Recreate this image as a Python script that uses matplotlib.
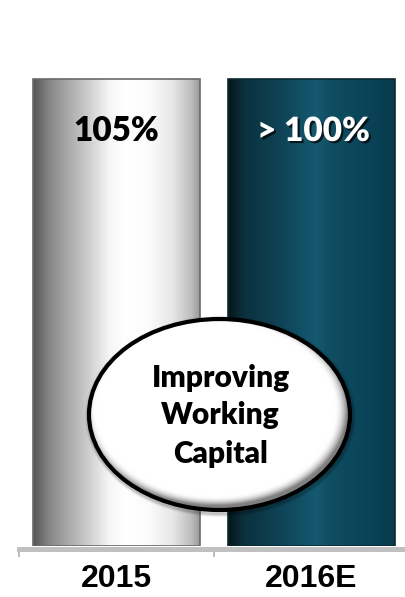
import numpy as np
import matplotlib
matplotlib.use("Agg")
import matplotlib.pyplot as plt
from matplotlib.colors import LinearSegmentedColormap
from matplotlib.patches import Ellipse
import matplotlib.patheffects as pe

# ---- data ----
categories = ["2015", "2016E"]
bar_values = [105, 105]          # both bars drawn at equal height in the reference
value_labels = ["105%", "> 100%"]
callout_lines = ["Improving", "Working", "Capital"]

W, H, DPI = 406, 597, 100
fig = plt.figure(figsize=(W / DPI, H / DPI), dpi=DPI)
fig.patch.set_facecolor("white")

# main axes: x from px 19 to 409, bar bottom at px 546
ax_left = 19 / W
ax_w = 390 / W
ax_bottom = (H - 546) / H
ymax = 120
ax_h = (467 * ymax / 105) / H
ax = fig.add_axes([ax_left, ax_bottom, ax_w, ax_h])
ax.set_facecolor("none")

x = np.arange(len(categories))
bars = ax.bar(x, bar_values, width=0.856, facecolor="none",
              edgecolor=["#6a6a6a", "#0a2a34"], linewidth=1.2, zorder=3)

grad_stops = [
    [(0.0, "#555555"), (0.10, "#888888"), (0.30, "#c4c4c4"), (0.46, "#f6f6f6"),
     (0.55, "#ffffff"), (0.70, "#fbfbfb"), (0.84, "#e6e6e6"), (0.95, "#bdbdbd"),
     (1.0, "#9a9a9a")],
    [(0.0, "#05161c"), (0.09, "#0b303c"), (0.33, "#0f4558"), (0.53, "#155a70"),
     (0.61, "#104e62"), (0.83, "#0a4458"), (1.0, "#083a4c")],
]
for patch, stops in zip(bars.patches, grad_stops):
    cmap = LinearSegmentedColormap.from_list("g", stops)
    g = cmap(np.linspace(0, 1, 256))[None, :, :]
    x0, y0 = patch.get_x(), patch.get_y()
    w, h = patch.get_width(), patch.get_height()
    im = ax.imshow(g, extent=[x0, x0 + w, y0, y0 + h], aspect="auto",
                   interpolation="bicubic", zorder=2)
    im.set_clip_path(patch)

ax.set_xlim(-0.5, 1.5)
ax.set_ylim(0, ymax)

# value labels
label_y = (546 - 131) / 467 * 105
ax.text(x[0], label_y, value_labels[0], ha="center", va="center",
        fontsize=24, fontweight="heavy", family="Lato", color="black", zorder=5)
ax.text(x[1] + 0.01, label_y, value_labels[1], ha="center", va="center",
        fontsize=24, fontweight="heavy", family="Lato", color="white", zorder=5,
        path_effects=[pe.withSimplePatchShadow(offset=(1.5, -1.5),
                                               shadow_rgbFace="black", alpha=0.7)])

# axes styling
for s in ["top", "right", "left"]:
    ax.spines[s].set_visible(False)
ax.spines["bottom"].set_color("#c0c0c0")
ax.spines["bottom"].set_linewidth(3.6)
ax.spines["bottom"].set_position(("outward", 2.5 * 72 / DPI))
ax.set_yticks([])
ax.set_xticks([-0.5, 0.5, 1.5])
ax.set_xticklabels([])
ax.tick_params(axis="x", which="major", length=6, width=1.1, color="#a8a8a8",
               direction="out")
ax.set_xticks(x, minor=True)
ax.set_xticklabels(categories, minor=True, fontsize=23, fontweight="bold",
                   family="Liberation Sans")
ax.tick_params(axis="x", which="minor", length=0, pad=11)

# overlay for callout ellipse (pixel coordinates)
ov = fig.add_axes([0, 0, 1, 1])
ov.set_xlim(0, W)
ov.set_ylim(H, 0)
ov.axis("off")
ov.set_zorder(5)

cx, cy, ew, eh = 219.5, 414.5, 261, 191
# soft outer shadow
for k, a in [(6, 0.05), (4, 0.08), (2, 0.12)]:
    ov.add_patch(Ellipse((cx + 1, cy + 2), ew + k, eh + k, facecolor="none",
                         edgecolor="black", linewidth=3, alpha=a))
ell = Ellipse((cx, cy), ew, eh, facecolor="none", edgecolor="none")
ov.add_patch(ell)
gx = np.linspace(cx - ew / 2, cx + ew / 2, 300)
gy = np.linspace(cy - eh / 2, cy + eh / 2, 220)
GX, GY = np.meshgrid(gx, gy)
r = np.sqrt(((GX - cx + 4) / (ew / 2 - 2)) ** 2 + ((GY - cy + 5) / (eh / 2 - 2)) ** 2)
val = np.clip((r - 0.93) / 0.1, 0, 1) ** 2
shade = 1 - 0.5 * val
img = np.dstack([shade, shade, shade])
im2 = ov.imshow(img, extent=[cx - ew / 2, cx + ew / 2, cy + eh / 2, cy - eh / 2],
                aspect="auto", interpolation="bicubic", zorder=1)
im2.set_clip_path(ell)
ov.add_patch(Ellipse((cx, cy), ew, eh, facecolor="none", edgecolor="black",
                     linewidth=3.0, zorder=3))
ov.set_xlim(0, W)
ov.set_ylim(H, 0)

for line, base in zip(callout_lines, [387, 424, 463]):
    ov.text(220.5, base, line, ha="center", va="baseline", fontsize=21.5,
            fontweight="heavy", family="Lato", color="black", zorder=4)

fig.savefig("out.png", dpi=DPI, facecolor="white")
